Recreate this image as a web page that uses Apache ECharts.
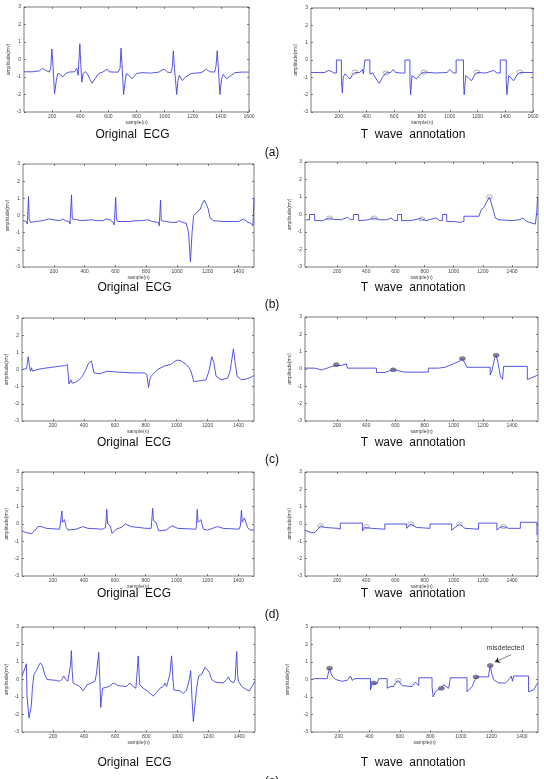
<!DOCTYPE html>
<html>
<head>
<meta charset="utf-8">
<script src="https://cdn.jsdelivr.net/npm/echarts@6/dist/echarts.min.js"></script>
<style>
  html, body { margin: 0; padding: 0; background: #fff; }
  #chart { width: 544px; height: 779px; }
</style>
</head>
<body>
<div id="chart"></div>
<script>
// ---- signal values: [sample, amplitude] ----
const ecgA = [[0,-0.7],[60,-0.7],[110,-0.65],[130,-0.5],[150,-0.6],[180,-0.72],[190,-0.5],[198,0.6],[205,-0.2],[217,-1.95],[230,-1.2],[240,-0.8],[260,-0.85],[275,-1.0],[295,-0.8],[320,-0.72],[360,-0.7],[375,-0.5],[385,-0.9],[397,0.9],[404,-0.3],[411,-1.3],[420,-0.8],[435,-0.7],[450,-0.8],[470,-1.15],[485,-1.35],[505,-1.1],[530,-0.8],[560,-0.72],[590,-0.55],[605,-0.7],[640,-0.72],[670,-0.72],[683,-0.5],[690,0.65],[697,-0.3],[708,-2.0],[720,-1.2],[728,-0.8],[745,-0.9],[768,-1.1],[800,-0.8],[840,-0.75],[900,-0.78],[960,-0.72],[990,-0.55],[1005,-0.6],[1020,-0.72],[1045,-0.75],[1055,-0.4],[1062,0.5],[1070,-0.5],[1086,-2.0],[1095,-1.2],[1105,-0.9],[1125,-1.2],[1150,-1.0],[1190,-0.8],[1260,-0.75],[1298,-0.55],[1320,-0.7],[1355,-0.72],[1365,-0.4],[1374,0.5],[1382,-0.5],[1393,-2.0],[1405,-1.1],[1417,-0.85],[1440,-1.1],[1452,-1.15],[1475,-0.9],[1500,-0.75],[1550,-0.72],[1600,-0.72]];
const twA = [[0,-0.72],[100,-0.72],[125,-0.6],[130,-0.5],[145,-0.65],[165,-0.75],[183,-0.75],[183,0],[219,0],[219,-1.2],[226,-1.9],[232,-1.0],[245,-0.8],[265,-0.95],[280,-1.1],[300,-0.85],[316,-0.72],[350,-0.72],[370,-0.55],[378,-0.8],[388,-0.8],[388,0],[424,0],[424,-0.8],[445,-0.75],[470,-1.1],[492,-1.35],[515,-1.0],[540,-0.75],[575,-0.72],[593,-0.55],[610,-0.72],[650,-0.75],[677,-0.75],[677,0],[713,0],[713,-1.2],[718,-2.0],[728,-0.9],[761,-1.1],[790,-0.8],[815,-0.7],[900,-0.75],[980,-0.72],[1002,-0.55],[1025,-0.75],[1046,-0.75],[1046,0],[1099,0],[1099,-1.2],[1104,-2.0],[1115,-0.9],[1157,-1.2],[1180,-0.85],[1195,-0.72],[1260,-0.75],[1316,-0.6],[1340,-0.75],[1364,-0.75],[1364,0],[1407,0],[1407,-1.2],[1412,-2.0],[1425,-0.9],[1460,-1.2],[1485,-0.85],[1504,-0.72],[1600,-0.72]];
const markA = [[316,-0.7],[540,-0.75],[815,-0.7],[1195,-0.7],[1504,-0.7]];

const ecgB = [[0,-0.3],[20,-0.35],[28,-0.5],[36,1.1],[40,-0.2],[48,-0.4],[80,-0.35],[130,-0.3],[165,-0.2],[200,-0.25],[240,-0.3],[258,-0.2],[275,-0.3],[300,-0.35],[305,-0.5],[315,1.2],[320,-0.2],[325,-0.3],[380,-0.3],[445,-0.25],[480,-0.3],[520,-0.3],[540,-0.2],[565,-0.25],[585,-0.4],[592,-0.55],[602,1.05],[607,-0.2],[615,-0.35],[690,-0.35],[735,-0.3],[770,-0.3],[810,-0.25],[840,-0.35],[878,-0.4],[885,-0.6],[893,0.9],[898,-0.3],[905,-0.4],[960,-0.4],[1000,-0.4],[1015,-0.3],[1035,-0.4],[1060,-0.45],[1075,-1.0],[1087,-2.7],[1098,-1.0],[1108,0],[1130,0.2],[1150,0.35],[1165,0.7],[1178,0.9],[1190,0.9],[1202,0.4],[1215,-0.15],[1235,-0.3],[1300,-0.35],[1400,-0.35],[1432,-0.2],[1460,-0.4],[1480,-0.45],[1493,-0.6],[1500,1.0]];
const twB = [[-15,-0.3],[11,-0.3],[11,0],[46,0],[46,-0.35],[100,-0.35],[130,-0.25],[148,-0.2],[175,-0.28],[230,-0.3],[273,-0.15],[290,-0.3],[312,-0.3],[312,0],[348,0],[348,-0.35],[400,-0.32],[430,-0.25],[455,-0.2],[490,-0.3],[540,-0.3],[569,-0.2],[595,-0.35],[615,-0.35],[615,0],[642,0],[642,-0.35],[700,-0.35],[760,-0.25],[781,-0.25],[810,-0.35],[877,-0.2],[905,-0.35],[922,-0.35],[922,0],[952,0],[952,-0.4],[1000,-0.4],[1040,-0.45],[1070,-0.4],[1070,-0.1],[1173,-0.1],[1190,0.3],[1207,0.4],[1225,0.7],[1245,1.0],[1255,0.9],[1270,0.3],[1285,-0.2],[1310,-0.3],[1400,-0.35],[1450,-0.3],[1475,-0.2],[1500,-0.4],[1560,-0.55],[1570,0.2],[1575,1.0]];
const markB = [[148,-0.2],[455,-0.2],[781,-0.25],[1245,1.0]];

const ecgC = [[0,0],[29,0.05],[35,0.4],[40,0.75],[47,0.3],[55,-0.1],[62,0.1],[68,-0.1],[98,0],[150,0.08],[185,0.12],[250,0.2],[280,0.22],[293,0.3],[298,-0.2],[304,-0.85],[315,-0.6],[325,-0.8],[345,-0.75],[369,-0.6],[390,-0.4],[412,0],[430,0.35],[440,0.45],[449,0.5],[458,0.1],[466,-0.2],[498,-0.25],[553,-0.1],[617,-0.15],[725,-0.2],[790,-0.2],[808,-0.3],[818,-1.05],[826,-0.6],[834,-0.4],[877,0],[920,0.2],[963,0.3],[990,0.5],[1007,0.55],[1028,0.5],[1061,0.3],[1071,0.35],[1080,0.1],[1093,-0.1],[1110,-0.7],[1158,-0.65],[1190,-0.6],[1205,-0.2],[1211,0],[1227,0.75],[1240,0.4],[1255,-0.4],[1287,-0.6],[1330,-0.5],[1345,-0.1],[1352,0.3],[1367,1.2],[1378,0.4],[1391,-0.4],[1418,-0.6],[1450,-0.55],[1480,-0.45],[1500,-0.35]];
const twC = [[-23,0.05],[46,0.05],[46,0.12],[50,-0.05],[92,-0.05],[115,0],[149,0.1],[183,0.2],[195,0.25],[229,0.2],[264,0.3],[271,0.3],[271,0.05],[470,0.05],[470,-0.2],[482,-0.28],[528,-0.2],[562,-0.1],[585,-0.05],[619,-0.1],[665,-0.18],[826,-0.18],[826,0.05],[895,0.05],[905,0],[940,0.1],[998,0.3],[1040,0.45],[1060,0.6],[1072,0.55],[1078,0.3],[1090,0.3],[1090,0.1],[1250,0.1],[1250,-0.35],[1262,-0.1],[1280,0.6],[1291,0.8],[1305,0.3],[1320,-0.4],[1335,-0.6],[1342,-0.6],[1342,0.15],[1505,0.15],[1505,-0.6],[1537,-0.5],[1576,-0.35]];
const markC = [[195,0.25],[585,-0.05],[1060,0.6],[1291,0.8]];

const ecgD = [[0,-0.4],[28,-0.5],[60,-0.55],[82,-0.4],[103,-0.15],[125,-0.15],[157,-0.25],[243,-0.3],[252,-0.2],[258,0.75],[262,0.1],[275,0.25],[286,-0.2],[297,-0.35],[350,-0.3],[393,-0.15],[426,-0.25],[522,-0.3],[540,-0.2],[548,0.85],[554,0],[570,-0.1],[583,-0.55],[608,-0.3],[641,-0.2],[669,0],[705,-0.15],[802,-0.25],[835,-0.25],[845,0.9],[850,0.2],[866,0.1],[884,-0.4],[931,-0.35],[970,-0.1],[1006,-0.25],[1124,-0.3],[1128,-0.1],[1133,0.85],[1138,0.1],[1157,0.25],[1172,-0.3],[1200,-0.35],[1264,-0.15],[1300,-0.25],[1404,-0.3],[1412,-0.1],[1419,0.8],[1424,0.1],[1438,0.35],[1458,-0.2],[1475,-0.35],[1500,-0.35]];
const twD = [[-23,-0.35],[23,-0.5],[46,-0.5],[69,-0.3],[87,-0.1],[115,-0.2],[206,-0.25],[222,-0.3],[222,0.05],[374,0.05],[374,-0.4],[390,-0.2],[401,-0.15],[436,-0.25],[528,-0.3],[528,0],[677,0],[677,-0.25],[706,0],[745,-0.2],[837,-0.25],[837,0],[986,0],[986,-0.35],[1039,0],[1077,-0.25],[1170,-0.3],[1170,0.05],[1296,0.05],[1296,-0.35],[1315,-0.2],[1342,-0.15],[1376,-0.25],[1457,-0.25],[1457,0.1],[1571,0.1],[1571,-0.65]];
const markD = [[87,-0.1],[401,-0.15],[706,0],[1039,0],[1342,-0.15]];

const ecgE = [[0,0.2],[17,0.6],[28,0.9],[32,-0.9],[45,-2.2],[54,-2.3],[60,-1.5],[67,-0.5],[77,0.3],[92,0.5],[105,0.75],[118,0.95],[131,0.8],[146,0.3],[161,0],[221,-0.05],[243,-0.1],[256,0],[269,0.2],[282,0],[295,-0.1],[307,0],[312,0.8],[318,1.65],[323,0.5],[329,-0.2],[350,-0.3],[372,-0.4],[393,-0.65],[405,-0.6],[419,-0.3],[447,-0.2],[469,-0.1],[479,0.3],[494,1.55],[501,0],[507,-1.6],[518,-0.5],[540,-0.45],[561,-0.4],[587,-0.2],[619,-0.35],[673,-0.4],[694,-0.2],[716,-0.4],[733,-0.5],[742,0.5],[748,1.35],[754,0.3],[759,-0.3],[780,-0.5],[813,-0.7],[845,-0.95],[866,-0.75],[888,-0.5],[909,-0.4],[920,-0.2],[931,-0.4],[942,-0.5],[952,0.3],[963,1.35],[970,0.2],[978,-0.6],[1017,-0.65],[1038,-0.8],[1060,-0.6],[1077,0],[1086,0.5],[1094,-1.0],[1103,-2.4],[1114,-2.3],[1124,-0.5],[1137,0.2],[1157,0.3],[1178,0.7],[1189,0.75],[1206,0.4],[1221,0],[1243,-0.15],[1296,-0.2],[1318,0],[1329,0.15],[1339,-0.05],[1361,-0.2],[1372,0],[1382,1.6],[1388,0.3],[1393,-0.1],[1415,-0.4],[1447,-0.6],[1464,-0.65],[1479,-0.4],[1500,-0.1]];
const twE = [[22,0],[44,0.05],[124,0.05],[130,0.3],[140,0.65],[150,0.35],[157,0.2],[179,0],[222,-0.1],[255,-0.05],[277,0.2],[288,-0.05],[299,-0.1],[305,0.05],[408,0.05],[408,-0.6],[414,-0.35],[429,-0.2],[451,-0.25],[462,-0.25],[462,0.05],[517,0.05],[517,-0.5],[538,-0.4],[560,-0.4],[571,-0.2],[589,-0.05],[615,-0.35],[680,-0.4],[702,-0.15],[724,-0.35],[724,0.1],[811,0.1],[811,-0.4],[818,-1.0],[833,-0.7],[855,-0.55],[872,-0.5],[887,-0.3],[920,-0.5],[931,-0.5],[931,0.1],[1040,0.1],[1040,-0.7],[1073,-0.4],[1094,0],[1099,0.15],[1181,0.15],[1186,0.5],[1192,0.8],[1203,0.3],[1214,0],[1247,-0.2],[1291,-0.2],[1320,0.05],[1330,0.2],[1338,-0.1],[1345,0.2],[1443,0.2],[1443,-0.7],[1476,-0.6],[1502,-0.2]];
const markE = [[140,0.65],[429,-0.2],[872,-0.5],[1099,0.15],[1192,0.8]];
const markEOpen = [[589,-0.05]];

const ticks1600 = [200, 400, 600, 800, 1000, 1200, 1400, 1600];
const ticks1400 = [200, 400, 600, 800, 1000, 1200, 1400];
const captions = ['(a)', '(b)', '(c)', '(d)', '(e)'];

// layout of each small axes box: [left, top, width, height] in px
const panels = [
    {data: ecgA, box: [24, 7, 225, 105], xr: [0, 1600], ticks: ticks1600},
    {data: twA, box: [311, 8, 222, 104], xr: [0, 1600], ticks: ticks1600, open: markA},
    {data: ecgB, box: [23, 164, 231, 103], xr: [0, 1500], ticks: ticks1400},
    {data: twB, box: [305, 162, 233, 105], xr: [-20, 1578], ticks: ticks1400, open: markB},
    {data: ecgC, box: [22, 318, 232, 103], xr: [0, 1500], ticks: ticks1400},
    {data: twC, box: [305, 317, 233, 104], xr: [-20, 1578], ticks: ticks1400, filled: markC},
    {data: ecgD, box: [22, 472, 232, 104], xr: [0, 1500], ticks: ticks1400},
    {data: twD, box: [305, 472, 233, 104], xr: [-20, 1578], ticks: ticks1400, open: markD},
    {data: ecgE, box: [22, 627, 233, 105], xr: [0, 1500], ticks: ticks1400},
    {data: twE, box: [311, 627, 227, 105], xr: [18, 1505], ticks: ticks1400, filled: markE, open: markEOpen, note: true, nameGap: 21}
];
const captionY = [135, 288, 443, 594, 763];
const letterY = [153, 305, 460, 615, 782];

const myChart = echarts.init(document.getElementById('chart'), null, {renderer: 'canvas'});

const grid = [], xAxis = [], yAxis = [], series = [], graphic = [];
const tickStyle = {inside: true, length: 2, lineStyle: {color: '#333', width: 0.6}};
const lblStyle = {fontSize: 5, color: '#444', fontFamily: 'Liberation Sans', formatter: function (v) { return String(v); }};
const noLine = {show: false, onZero: false};

panels.forEach(function (p, i) {
    grid.push({left: p.box[0], top: p.box[1], width: p.box[2], height: p.box[3],
        show: true, borderColor: '#444', borderWidth: 0.7, backgroundColor: '#fff'});
    // bottom axis with labels
    xAxis.push({type: 'value', gridIndex: i, min: p.xr[0], max: p.xr[1], position: 'bottom',
        name: 'sample(n)', nameLocation: 'middle', nameGap: 8,
        nameTextStyle: {fontSize: 5, color: '#444'},
        axisLine: noLine, splitLine: {show: false},
        axisTick: Object.assign({customValues: p.ticks}, tickStyle),
        axisLabel: Object.assign({customValues: p.ticks, margin: 2}, lblStyle)});
    // top mirror (ticks only)
    xAxis.push({type: 'value', gridIndex: i, min: p.xr[0], max: p.xr[1], position: 'top',
        axisLine: noLine, splitLine: {show: false}, axisLabel: {show: false},
        axisTick: Object.assign({customValues: p.ticks}, tickStyle)});
    yAxis.push({type: 'value', gridIndex: i, min: -3, max: 3, interval: 1, position: 'left',
        name: 'amplitude(mv)', nameLocation: 'middle', nameGap: p.nameGap || 13,
        nameTextStyle: {fontSize: 5, color: '#444'},
        axisLine: noLine, splitLine: {show: false},
        axisTick: tickStyle, axisLabel: Object.assign({margin: 3}, lblStyle)});
    yAxis.push({type: 'value', gridIndex: i, min: -3, max: 3, interval: 1, position: 'right',
        axisLine: noLine, splitLine: {show: false}, axisLabel: {show: false},
        axisTick: tickStyle});

    series.push({type: 'line', xAxisIndex: 2 * i, yAxisIndex: 2 * i, data: p.data,
        showSymbol: false, symbol: 'none', animation: false,
        lineStyle: {color: '#4242e2', width: 0.9}});

    if (p.open) {
        series.push({type: 'scatter', xAxisIndex: 2 * i, yAxisIndex: 2 * i, data: p.open,
            symbol: 'circle', symbolSize: [6, 4], animation: false,
            itemStyle: {color: '#fff', borderColor: '#8a8a8a', borderWidth: 0.8}});
    }
    if (p.filled) {
        const s = {type: 'scatter', xAxisIndex: 2 * i, yAxisIndex: 2 * i, data: p.filled,
            symbol: 'circle', symbolSize: [6, 4], animation: false,
            itemStyle: {color: '#6a6a6a', borderColor: '#444', borderWidth: 0.5}};
        if (p.note) {
            s.markLine = {silent: true, animation: false, symbol: ['none', 'arrow'], symbolSize: 5,
                label: {show: false}, lineStyle: {color: '#333', width: 0.6, type: 'solid'},
                data: [[{coord: [1330, 1.42]}, {coord: [1222, 1.0]}]]};
            s.markPoint = {silent: true, animation: false, symbol: 'rect', symbolSize: 0,
                label: {show: true, formatter: 'misdetected', fontSize: 7, color: '#333',
                    fontFamily: 'Liberation Sans'},
                data: [{coord: [1292, 1.78]}]};
        }
        series.push(s);
    }
});

function caption(txt, x, y) {
    return {type: 'text', z: 100, x: x, y: y, style: {
        text: txt, align: 'center', verticalAlign: 'middle',
        font: '12px "Liberation Sans"', fill: '#111'}};
}

for (let r = 0; r < 5; r++) {
    const lt = panels[2 * r];
    graphic.push(caption('Original  ECG', lt.box[0] + lt.box[2] / 2 - 4, captionY[r]));
    graphic.push(caption('T  wave  annotation', 413, captionY[r]));
    graphic.push(caption(captions[r], 272, letterY[r]));
}

myChart.setOption({
    backgroundColor: '#fff',
    animation: false,
    grid: grid,
    xAxis: xAxis,
    yAxis: yAxis,
    series: series,
    graphic: graphic
});
</script>
</body>
</html>
